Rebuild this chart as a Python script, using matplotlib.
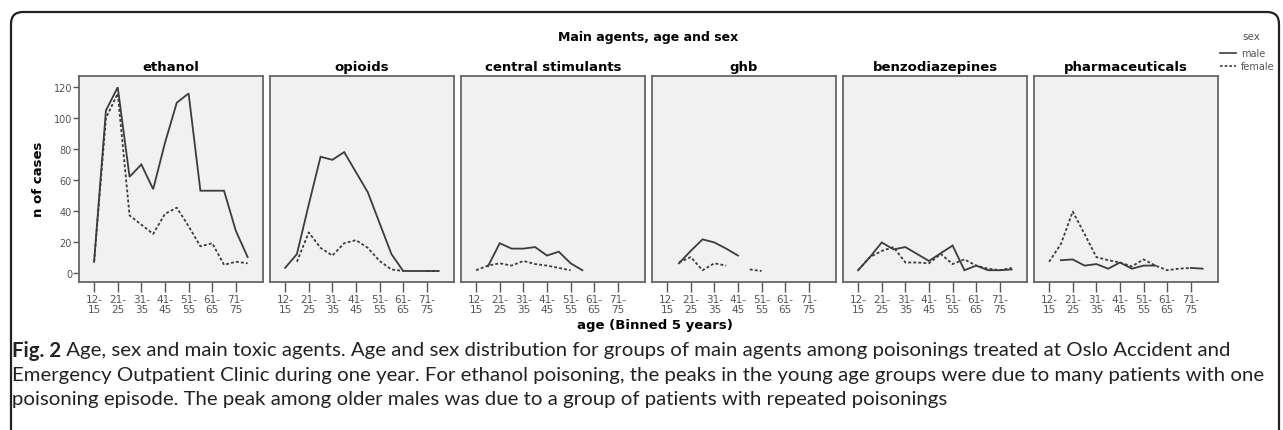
import numpy as np
import matplotlib
matplotlib.use("Agg")
import matplotlib.pyplot as plt
from matplotlib.patches import FancyBboxPatch
from matplotlib.lines import Line2D
from matplotlib.text import Annotation
from matplotlib.transforms import IdentityTransform

nan = np.nan

# age bins (5 years)
age_bins = ["12-15", "16-20", "21-25", "26-30", "31-35", "36-40", "41-45",
            "46-50", "51-55", "56-60", "61-65", "66-70", "71-75", "76-80"]

agents = ["ethanol", "opioids", "central stimulants", "ghb",
          "benzodiazepines", "pharmaceuticals"]

male_ethanol = [7, 105, 120, 62, 70, 54, 84, 110, 116, 53, 53, 53, 27, 10]
female_ethanol = [7, 100, 116, 37, 31, 25, 38, 42, 30, 17, 19, 5, 7, 6]

male_opioids = [3, 12, 44, 75, 73, 78, 65, 52, 32, 12, 1, 1, 1, 1]
female_opioids = [nan, 7, 26, 16, 11, 19, 21, 16, 7.5, 2, 1, nan, 1, 1]

male_stimulants = [nan, 4, 19, 15.5, 15.5, 16.5, 11, 13.5, 6, 1.5, nan, nan, nan, nan]
female_stimulants = [1.5, 4.5, 6, 4.5, 7.5, 5.5, 4.5, 3, 1.5, nan, nan, nan, nan, nan]

male_ghb = [nan, 6, 14, 21.5, 19.5, 15.5, 11, nan, nan, nan, nan, nan, nan, nan]
female_ghb = [nan, 6.5, 10, 1.5, 6, 4.5, nan, 2, 1, nan, nan, nan, nan, nan]

male_benzo = [1.5, 10, 19.5, 15, 16.5, 12, 7.5, 12.5, 17.5, 1.5, 4.5, 1.5, 1.5, 2]
female_benzo = [1.5, 10, 14, 16.5, 6.5, 6.5, 6, 12, 5.5, 8.5, 4.5, 2.5, 1.5, 3]

male_pharma = [nan, 8, 8.5, 4.5, 5.5, 2.5, 6.5, 2.5, 4.5, 4.5, nan, nan, 3, 2.5]
female_pharma = [7, 18.5, 39.5, 25, 10, 8, 6.5, 4, 8.5, 4.5, 1.5, 2.5, 3, nan]

male_vals = [male_ethanol, male_opioids, male_stimulants, male_ghb, male_benzo, male_pharma]
female_vals = [female_ethanol, female_opioids, female_stimulants, female_ghb, female_benzo, female_pharma]

W, H = 1283, 431
fig = plt.figure(figsize=(W / 100, H / 100), dpi=100)
fig.patch.set_facecolor("white")

# outer rounded frame (open at the bottom)
frame = FancyBboxPatch((11, -30), 1268, H - 13 + 30,
                       boxstyle="round,pad=0,rounding_size=12",
                       transform=IdentityTransform(), fill=False,
                       edgecolor="#222222", linewidth=1.6)
fig.add_artist(frame)

line_col = "#3c3c3c"
tick_col = "#555555"
x = np.arange(len(age_bins))
tick_idx = x[::2]
tick_lab = [age_bins[i].replace("-", "-\n") for i in tick_idx]

lefts = [79, 270, 461, 652, 843, 1034]
pw = 184
top, bot = 77, 282.5

for k, name in enumerate(agents):
    ax = fig.add_axes([lefts[k] / W, (H - bot) / H, pw / W, (bot - top) / H])
    ax.set_facecolor("#f1f1f1")
    for s in ax.spines.values():
        s.set_color("#666666")
        s.set_linewidth(1.3)
    ax.plot(x, male_vals[k], color=line_col, lw=1.3, solid_joinstyle="miter")
    ax.plot(x, female_vals[k], color=line_col, lw=1.3, linestyle=(0, (1.6, 1.2)))
    ax.set_xlim(-1.28, 14.3)
    ax.set_ylim(-5.8, 127.3)
    ax.set_xticks(tick_idx)
    ax.set_xticklabels(tick_lab, fontsize=7.5, color=tick_col, linespacing=0.95)
    ax.tick_params(axis="x", length=7, width=1, color=tick_col, pad=2)
    ax.set_yticks([0, 20, 40, 60, 80, 100, 120])
    if k == 0:
        ax.tick_params(axis="y", length=4, width=1, color=tick_col, labelsize=7,
                       labelcolor=tick_col, pad=1)
        ax.set_ylabel("n of cases", fontsize=9.5, fontweight="bold", labelpad=6)
    else:
        ax.tick_params(axis="y", length=0, labelleft=False)
    ax.set_title(name, fontsize=9.5, fontweight="bold", pad=4)

fig.text(648 / W, 1 - 37 / H, "Main agents, age and sex", ha="center", va="center",
         fontsize=9, fontweight="bold")
fig.text(655 / W, 1 - 326 / H, "age (Binned 5 years)", ha="center", va="center",
         fontsize=9.5, fontweight="bold")

# legend
fig.text(1251 / W, 1 - 37 / H, "sex", ha="center", va="center", fontsize=7.5, color=tick_col)
fig.add_artist(Line2D([1220 / W, 1236 / W], [1 - 54 / H] * 2, color=line_col, lw=1.2))
fig.add_artist(Line2D([1220 / W, 1236 / W], [1 - 67 / H] * 2, color=line_col, lw=1.2,
                      linestyle=(0, (1.6, 1.2))))
fig.text(1241 / W, 1 - 54 / H, "male", ha="left", va="center", fontsize=7, color=tick_col)
fig.text(1241 / W, 1 - 67 / H, "female", ha="left", va="center", fontsize=7, color=tick_col)

# caption
cap_font = "Lato"
cap_size = 14.7
t = fig.text(12 / W, 1 - 351 / H, "Fig. 2", ha="left", va="center", fontsize=cap_size,
             fontweight="bold", family=cap_font, color="#222222")
a = Annotation(" Age, sex and main toxic agents. Age and sex distribution for groups of main agents among poisonings treated at Oslo Accident and",
               xy=(1, 0.5), xycoords=t, va="center", ha="left", fontsize=cap_size,
               family=cap_font, color="#222222")
fig.add_artist(a)
fig.text(12 / W, 1 - 376 / H,
         "Emergency Outpatient Clinic during one year. For ethanol poisoning, the peaks in the young age groups were due to many patients with one",
         ha="left", va="center", fontsize=cap_size, family=cap_font, color="#222222")
fig.text(12 / W, 1 - 400 / H,
         "poisoning episode. The peak among older males was due to a group of patients with repeated poisonings",
         ha="left", va="center", fontsize=cap_size, family=cap_font, color="#222222")

fig.savefig("out.png", dpi=100)
